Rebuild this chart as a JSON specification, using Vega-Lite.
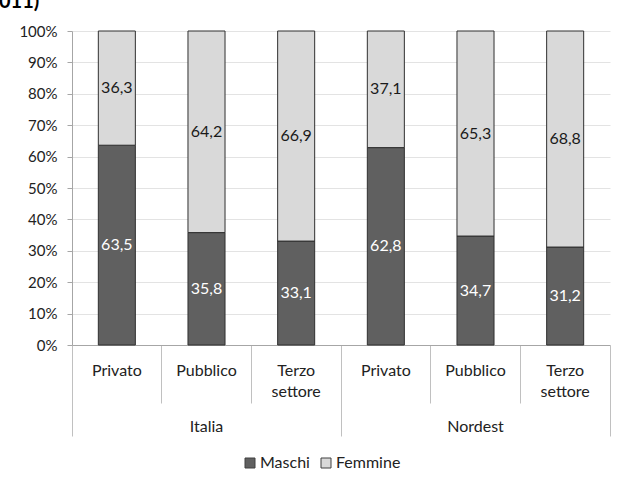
{
  "$schema": "https://vega.github.io/schema/vega-lite/v6.json",
  "width": 538,
  "height": 314,
  "autosize": {"type": "none"},
  "padding": {"left": 72, "top": 31, "right": 7, "bottom": 133},
  "background": "white",
  "title": {
    "text": "011)",
    "anchor": "start",
    "frame": "group",
    "font": "Lato",
    "fontSize": 20,
    "fontWeight": "bold",
    "color": "#000000",
    "baseline": "alphabetic",
    "dx": -73,
    "dy": 19,
    "offset": 15
  },
  "data": {
    "values": [
      {"area": "Italia", "settore": "Privato", "sesso": "Maschi", "valore": 63.5},
      {"area": "Italia", "settore": "Privato", "sesso": "Femmine", "valore": 36.3},
      {"area": "Italia", "settore": "Pubblico", "sesso": "Maschi", "valore": 35.8},
      {"area": "Italia", "settore": "Pubblico", "sesso": "Femmine", "valore": 64.2},
      {"area": "Italia", "settore": "Terzo settore", "sesso": "Maschi", "valore": 33.1},
      {"area": "Italia", "settore": "Terzo settore", "sesso": "Femmine", "valore": 66.9},
      {"area": "Nordest", "settore": "Privato", "sesso": "Maschi", "valore": 62.8},
      {"area": "Nordest", "settore": "Privato", "sesso": "Femmine", "valore": 37.1},
      {"area": "Nordest", "settore": "Pubblico", "sesso": "Maschi", "valore": 34.7},
      {"area": "Nordest", "settore": "Pubblico", "sesso": "Femmine", "valore": 65.3},
      {"area": "Nordest", "settore": "Terzo settore", "sesso": "Maschi", "valore": 31.2},
      {"area": "Nordest", "settore": "Terzo settore", "sesso": "Femmine", "valore": 68.8}
    ]
  },
  "transform": [
    {"calculate": "datum.area + '/' + datum.settore", "as": "colonna"},
    {
      "stack": "valore",
      "groupby": ["colonna"],
      "offset": "normalize",
      "sort": [{"field": "sesso", "order": "descending"}],
      "as": ["y0", "y1"]
    },
    {"calculate": "(datum.y0 + datum.y1) / 2", "as": "ymid"}
  ],
  "layer": [
    {
      "mark": {"type": "bar", "width": {"band": 0.413}, "stroke": "#303030", "strokeWidth": 1},
      "encoding": {
        "x": {
          "field": "colonna",
          "type": "nominal",
          "sort": ["Italia/Privato", "Italia/Pubblico", "Italia/Terzo settore", "Nordest/Privato", "Nordest/Pubblico", "Nordest/Terzo settore"],
          "scale": {"paddingInner": 0, "paddingOuter": 0},
          "axis": {
            "title": null,
            "orient": "bottom",
            "grid": false,
            "domainColor": "#a6a6a6",
            "domainWidth": 1,
            "bandPosition": 0,
            "ticks": true,
            "tickColor": "#c0c0c0",
            "tickWidth": 1,
            "tickSize": {"condition": {"test": "indexof(datum.value, 'Privato') >= 0", "value": 91}, "value": 58},
            "labelPadding": {"condition": {"test": "indexof(datum.value, 'Privato') >= 0", "value": -74}, "value": -41},
            "labelAngle": 0,
            "labelOverlap": false,
            "labelFont": "Lato",
            "labelFontSize": 16,
            "labelColor": "#222222",
            "labelLineHeight": 21,
            "labelExpr": "split(datum.value, '/')[1] === 'Terzo settore' ? ['Terzo', 'settore'] : split(datum.value, '/')[1]"
          }
        },
        "y": {
          "field": "y0",
          "type": "quantitative",
          "scale": {"domain": [0, 1]},
          "axis": {
            "title": null,
            "values": [0, 0.1, 0.2, 0.3, 0.4, 0.5, 0.6, 0.7, 0.8, 0.9, 1],
            "labelOverlap": false,
            "format": ".0%",
            "domainColor": "#a6a6a6",
            "tickColor": "#a6a6a6",
            "tickSize": 5,
            "labelPadding": 10,
            "labelFont": "Lato",
            "labelFontSize": 15,
            "labelColor": "#222222",
            "grid": true,
            "gridColor": "#e3e3e3"
          }
        },
        "y2": {"field": "y1"},
        "color": {
          "field": "sesso",
          "type": "nominal",
          "scale": {"domain": ["Maschi", "Femmine"], "range": ["#606060", "#d9d9d9"]},
          "legend": {
            "title": null,
            "orient": "none",
            "legendX": 170,
            "legendY": 424,
            "direction": "horizontal",
            "symbolType": "square",
            "symbolSize": 100,
            "symbolStrokeColor": "#404040",
            "symbolStrokeWidth": 1,
            "labelFont": "Lato",
            "labelFontSize": 16,
            "labelColor": "#222222",
            "labelOffset": 2,
            "columnPadding": 8
          }
        }
      }
    },
    {
      "mark": {"type": "text", "font": "Lato", "fontSize": 16},
      "encoding": {
        "x": {
          "field": "colonna",
          "type": "nominal",
          "sort": ["Italia/Privato", "Italia/Pubblico", "Italia/Terzo settore", "Nordest/Privato", "Nordest/Pubblico", "Nordest/Terzo settore"],
          "axis": {
            "title": null,
            "orient": "bottom",
            "domain": false,
            "grid": false,
            "bandPosition": 1,
            "ticks": true,
            "tickSize": 91,
            "tickColor": "#c0c0c0",
            "tickWidth": 1,
            "tickOpacity": {"condition": {"test": "datum.value === 'Nordest/Terzo settore'", "value": 1}, "value": 0},
            "labels": true,
            "labelAngle": 0,
            "labelOverlap": false,
            "labelPadding": -18,
            "labelFont": "Lato",
            "labelFontSize": 16,
            "labelColor": "#222222",
            "labelExpr": "split(datum.value, '/')[1] === 'Pubblico' ? split(datum.value, '/')[0] : ''"
          }
        },
        "y": {
          "field": "ymid",
          "type": "quantitative",
          "axis": {
            "title": null,
            "values": [0, 0.1, 0.2, 0.3, 0.4, 0.5, 0.6, 0.7, 0.8, 0.9, 1],
            "labelOverlap": false,
            "format": ".0%",
            "domainColor": "#a6a6a6",
            "tickColor": "#a6a6a6",
            "tickSize": 5,
            "labelPadding": 10,
            "labelFont": "Lato",
            "labelFontSize": 15,
            "labelColor": "#222222",
            "grid": true,
            "gridColor": "#e3e3e3"
          }
        },
        "text": {"field": "valore", "type": "quantitative", "format": ".1f"},
        "color": {"condition": {"test": "datum.sesso === 'Maschi'", "value": "#ffffff"}, "value": "#1a1a1a"}
      }
    }
  ],
  "resolve": {"axis": {"x": "independent"}},
  "config": {
    "font": "Lato",
    "view": {"stroke": null},
    "locale": {
      "number": {"decimal": ",", "thousands": ".", "grouping": [3], "currency": ["€", ""]}
    }
  }
}
